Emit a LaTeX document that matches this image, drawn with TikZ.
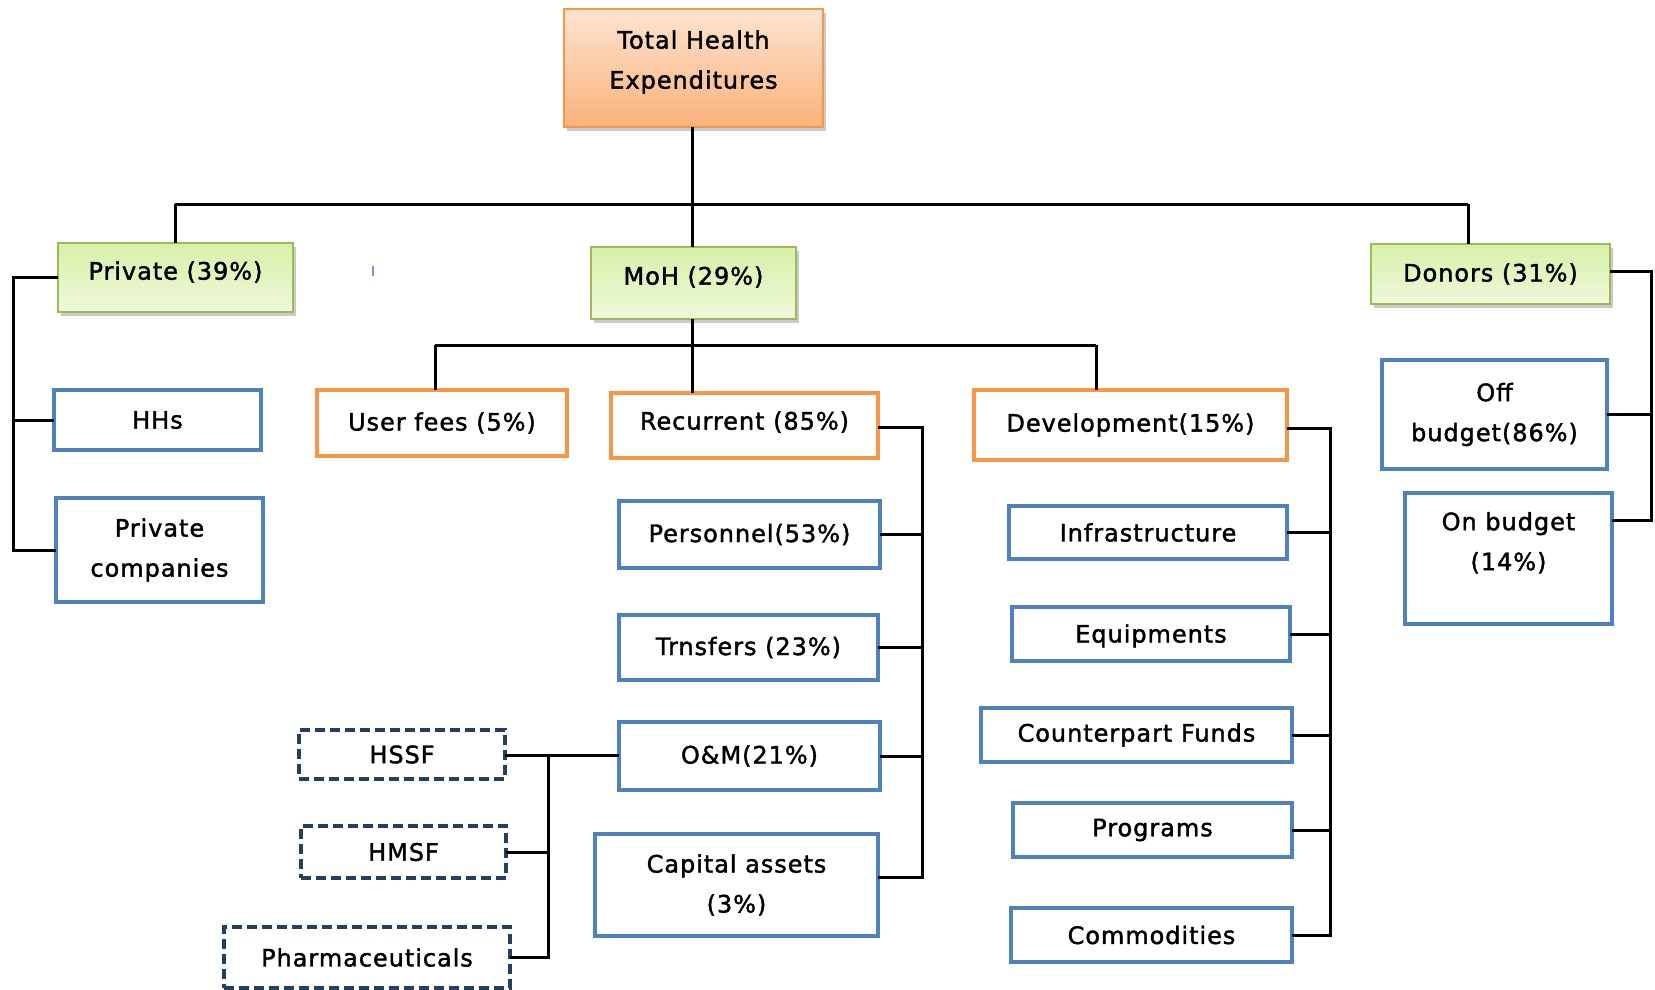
\documentclass[tikz,border=0pt]{standalone}
\usepackage{fontspec}
\setmainfont{DejaVu Sans}[LetterSpace=4, FakeBold=1.6]
\usetikzlibrary{shadows}
\definecolor{bl}{HTML}{4F81BD}
\definecolor{orb}{HTML}{F79646}
\definecolor{grb}{HTML}{9BBB59}
\definecolor{nav}{HTML}{243F60}
\definecolor{gtop}{HTML}{D8F0A8}
\definecolor{gbot}{HTML}{EEF8DA}
\definecolor{otop}{HTML}{FDE4D0}
\definecolor{obot}{HTML}{FAB27A}
\newcommand\bx[7]{\node[#6, minimum width={#4-#2}, minimum height={#5-#3}] (#1) at ({(#2+#4)/2},{(#3+#5)/2}) {#7};}
\tikzset{
  every node/.style={inner sep=0pt, outer sep=0pt, align=center, font=\fontsize{24}{40}\selectfont},
  shad/.style={drop shadow={shadow xshift=3pt, shadow yshift=-4pt, opacity=0.35, fill=black!60}},
  topbox/.style={draw=orb, line width=1.5pt, top color=otop, bottom color=obot, shad},
  grbox/.style={draw=grb, line width=1.5pt, top color=gtop, bottom color=gbot, shad},
  blbox/.style={draw=bl, line width=4pt, fill=white},
  orbox/.style={draw=orb, line width=4pt, fill=white},
  dsbox/.style={draw=nav, line width=3.5pt, dash pattern=on 10pt off 5pt, fill=white},
  conn/.style={draw=black, line width=3pt},
}
\begin{document}
\begin{tikzpicture}[x=1pt,y=-1pt]
\useasboundingbox (0,0) rectangle (1655,990);
% level 0
\bx{the}{564}{9}{823}{127}{topbox, text depth=17pt}{Total Health\\Expenditures}
% level 1
\bx{priv}{58}{243}{293}{312}{grbox, text depth=14pt}{Private (39\%)}
\bx{moh}{591}{247}{796}{319}{grbox, text depth=15pt}{MoH (29\%)}
\bx{don}{1371}{244}{1610}{304}{grbox}{Donors (31\%)}
% private children
\bx{hhs}{54}{390}{261}{450}{blbox}{HHs}
\bx{pco}{56}{498}{263}{602}{blbox}{Private\\companies}
% MoH children
\bx{usr}{317}{390}{567}{456}{orbox}{User fees (5\%)}
\bx{rec}{611}{393}{878}{458}{orbox, text depth=10pt}{Recurrent (85\%)}
\bx{dev}{974}{390}{1287}{460}{orbox}{Development(15\%)}
% recurrent children
\bx{per}{619}{501}{880}{568}{blbox}{Personnel(53\%)}
\bx{trn}{619}{615}{878}{680}{blbox}{Trnsfers (23\%)}
\bx{om}{619}{722}{880}{790}{blbox}{O\&M(21\%)}
\bx{cap}{595}{834}{878}{936}{blbox}{Capital assets\\(3\%)}
% O&M children
\bx{hssf}{299}{730}{505}{779}{dsbox}{HSSF}
\bx{hmsf}{301}{826}{506}{878}{dsbox}{HMSF}
\bx{pha}{224}{927}{510}{988}{dsbox}{Pharmaceuticals}
% development children
\bx{inf}{1009}{506}{1287}{559}{blbox}{Infrastructure}
\bx{equ}{1012}{607}{1290}{661}{blbox, text height=22pt}{Equipments}
\bx{cpf}{981}{708}{1292}{762}{blbox}{Counterpart Funds}
\bx{prg}{1013}{803}{1292}{857}{blbox}{Programs}
\bx{com}{1011}{908}{1292}{962}{blbox}{Commodities}
% donors children
\bx{off}{1382}{360}{1607}{469}{blbox}{Off\\budget(86\%)}
\bx{onb}{1405}{493}{1612}{624}{blbox}{}
\node[anchor=north] (onbt) at ([yshift=-19pt]onb.north) {On budget\\(14\%)};
% stray mark
\draw[bl!80, line width=2pt] (373,266) -- (373,276);
% bus coordinates
\coordinate (b0) at (692,204);
\coordinate (bl0) at (175,204);
\coordinate (br0) at (1468,204);
\coordinate (b1) at (692,345);
\coordinate (bl1) at (435,345);
\coordinate (br1) at (1096,345);
% connectors level 0 -> 1
\draw[conn] (the.south -| b0) -- (b0);
\draw[conn] (bl0) -- (br0);
\draw[conn] (bl0) -- (bl0 |- priv.north);
\draw[conn] (b0) -- (b0 |- moh.north);
\draw[conn] (br0) -- (br0 |- don.north);
% MoH -> children
\draw[conn] (b1 |- moh.south) -- (b1);
\draw[conn] (bl1) -- (br1);
\draw[conn] (bl1) -- (bl1 |- usr.north);
\draw[conn] (b1) -- (b1 |- rec.north);
\draw[conn] (br1) -- (br1 |- dev.north);
% private bracket
\coordinate (pb) at (13,277);
\draw[conn] (priv.west |- pb) -- (pb) -- (pb |- pco.west) -- (pco.west);
\draw[conn] (pb |- hhs.west) -- (hhs.west);
% recurrent bracket
\coordinate (rb) at (922,427);
\draw[conn] (rec.east |- rb) -- (rb) -- (rb |- 0,877) -- (cap.east |- 0,877);
\draw[conn] (per.east) -- (rb |- per.east);
\draw[conn] (trn.east) -- (rb |- trn.east);
\draw[conn] (om.east) -- (rb |- om.east);
% O&M bracket
\coordinate (ob) at (548,755);
\draw[conn] (hssf.east |- ob) -- (om.west |- ob);
\draw[conn] (ob) -- (ob |- pha.east) -- (pha.east);
\draw[conn] (hmsf.east) -- (ob |- hmsf.east);
% development bracket
\coordinate (db) at (1330,428);
\draw[conn] (dev.east |- db) -- (db) -- (db |- com.east) -- (com.east);
\draw[conn] (inf.east) -- (db |- inf.east);
\draw[conn] (equ.east) -- (db |- equ.east);
\draw[conn] (cpf.east) -- (db |- cpf.east);
\draw[conn] (prg.east) -- (db |- prg.east);
% donors bracket
\coordinate (nb) at (1651,271);
\coordinate (nb2) at (1651,520);
\draw[conn] (don.east |- nb) -- (nb) -- (nb2) -- (onb.east |- nb2);
\draw[conn] (off.east) -- (nb |- off.east);
\end{tikzpicture}
\end{document}
